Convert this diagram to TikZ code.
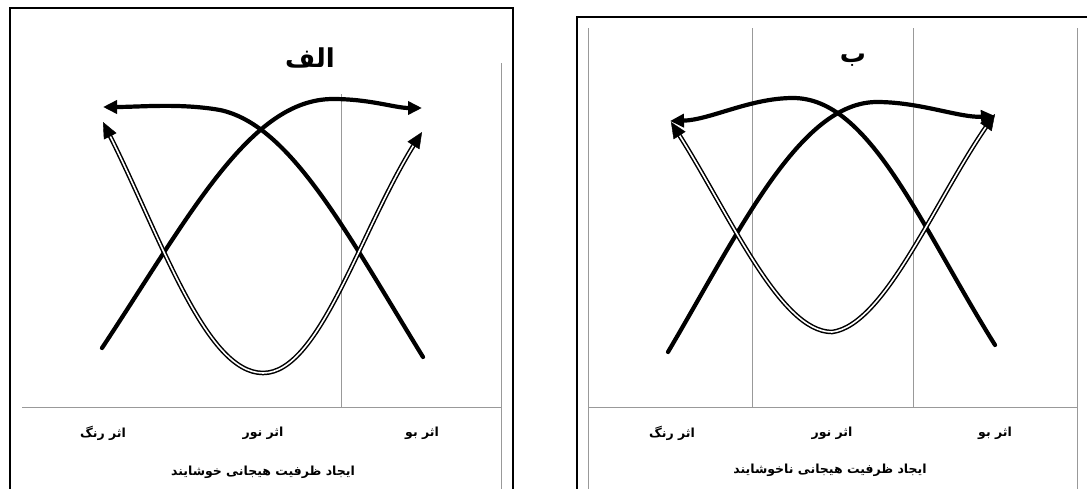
\documentclass[tikz,border=0pt]{standalone}
\usepackage{fontspec}
\newfontfamily\arabicfont[Script=Arabic]{DejaVu Sans Bold}
\TeXXeTstate=1
\usetikzlibrary{arrows.meta,calc}

\begin{document}
\begin{tikzpicture}[
    x=1pt, y=-1pt,
    panelbox/.style={draw, line width=2pt},
    gridline/.style={draw=black!40, line width=1pt},
    curveline/.style={line width=4.2pt, line cap=round, -{Triangle[length=14pt,width=13pt]}},
    doubleline/.style={line width=4.6pt, shorten <=12pt, shorten >=12pt,
        postaction={draw=white, line width=1.6pt}},
    tipline/.style={line width=0.4pt, -{Triangle[length=16pt,width=14pt]}},
    lbl/.style={font=\arabicfont\fontsize{12.5}{14}\selectfont},
    ttl/.style={font=\arabicfont\fontsize{26}{30}\selectfont}
]
\useasboundingbox (0,0) rectangle (1087,488);
\clip (0,0) rectangle (1087,488);

% panel alef (left)
\draw[panelbox] (10,500) -- (10,8) -- (513,8) -- (513,500);
\draw[gridline] (22,407) -- (501,407);
\draw[gridline] (341,94) -- (341,407);
\draw[gridline] (501,63) -- (501,500);

\node[ttl] (titleA) at (310,58) {\beginR الف\endR};

\coordinate (a1s) at (102,348);
\coordinate (a1e) at (422,108);
\coordinate (a2s) at (423,357);
\coordinate (a2e) at (103,107);
\coordinate (a3s) at (103,122);
\coordinate (a3e) at (422,132);
\coordinate (a3m) at (263,373);

\draw[curveline] (a1s) .. controls (190,215) and (250,99) .. (333,99) .. controls (370,99) and (395,108) .. (a1e);
\draw[curveline] (a2s) .. controls (345,230) and (290,125) .. (220,110) .. controls (180,103) and (140,107) .. (a2e);
\draw[doubleline] (a3s) .. controls (160,235) and (205,373) .. (a3m) .. controls (320,373) and (360,230) .. (a3e);
\draw[tipline] ($(a3s)!16pt!(160,235)$) -- (a3s);
\draw[tipline] ($(a3e)!16pt!(360,230)$) -- (a3e);

\node[lbl] (colorA) at (103,433) {\beginR اثر رنگ\endR};
\node[lbl] (lightA) at (263,433) {\beginR اثر نور\endR};
\node[lbl] (smellA) at (422,433) {\beginR اثر بو\endR};
\node[lbl] (captA) at (263,472) {\beginR ایجاد ظرفیت هیجانی خوشایند\endR};

% panel be (right)
\draw[panelbox] (577,500) -- (577,17) -- (1100,17);
\draw[gridline] (588,407) -- (1077,407);
\foreach \gx in {588,1077}
    \draw[gridline] (\gx,28) -- (\gx,500);
\foreach \gx in {752,913}
    \draw[gridline] (\gx,28) -- (\gx,407);

\node[ttl] (titleB) at (853,60) {\beginR ب\endR};

\coordinate (b1s) at (668,352);
\coordinate (b1e) at (995,116);
\coordinate (b2s) at (995,345);
\coordinate (b2e) at (670,121);
\coordinate (b3s) at (671,122);
\coordinate (b3e) at (995,114);
\coordinate (b3m) at (832,332);

\draw[curveline] (b1s) .. controls (740,230) and (800,102) .. (877,102) .. controls (920,102) and (960,118) .. (b1e);
\draw[curveline] (b2s) .. controls (920,225) and (870,98) .. (793,98) .. controls (750,98) and (710,120) .. (b2e);
\draw[doubleline] (b3s) .. controls (730,215) and (780,332) .. (b3m) .. controls (885,325) and (935,200) .. (b3e);
\draw[tipline] ($(b3s)!16pt!(730,215)$) -- (b3s);
\draw[tipline] ($(b3e)!16pt!(935,200)$) -- (b3e);

\node[lbl] (colorB) at (672,433) {\beginR اثر رنگ\endR};
\node[lbl] (lightB) at (832,433) {\beginR اثر نور\endR};
\node[lbl] (smellB) at (995,433) {\beginR اثر بو\endR};
\node[lbl] (captB) at (830,470) {\beginR ایجاد ظرفیت هیجانی ناخوشایند\endR};
\end{tikzpicture}
\end{document}
